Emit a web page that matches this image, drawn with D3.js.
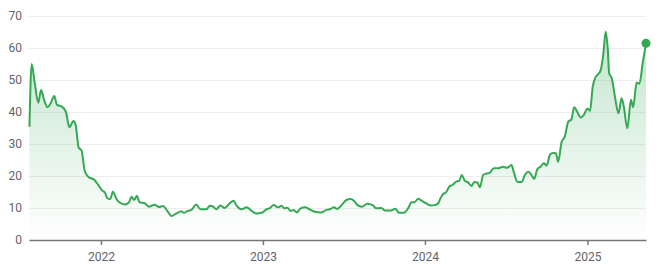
<!DOCTYPE html>
<meta charset="utf-8">
<style>
	body { margin: 0; background: #fff; font-family: Roboto, Arial, sans-serif; }
	.grid line { stroke: #eeeeee; stroke-width: 1; }
	.tick text { fill: #5f6368; font-size: 12px; font-family: Roboto, Arial, sans-serif; }
</style>
<body>
<svg id="chart" width="659" height="273"></svg>
<script src="https://d3js.org/d3.v7.min.js"></script>
<script>
	// weekly-ish readings
	var dates = [
		"2021-07-24","2021-07-29","2021-08-05","2021-08-13","2021-08-19","2021-08-26","2021-09-03","2021-09-10",
		"2021-09-18","2021-09-24","2021-10-05","2021-10-14","2021-10-22","2021-10-31","2021-11-05","2021-11-12",
		"2021-11-18","2021-11-26","2021-12-05","2021-12-17","2021-12-26","2022-01-03","2022-01-10","2022-01-16",
		"2022-01-22","2022-01-28","2022-02-05","2022-02-12","2022-02-24","2022-03-05","2022-03-11","2022-03-17",
		"2022-03-23","2022-03-29","2022-04-10","2022-04-19","2022-05-02","2022-05-12","2022-05-21","2022-05-30",
		"2022-06-09","2022-06-20","2022-07-01","2022-07-07","2022-07-16","2022-07-24","2022-08-04","2022-08-13",
		"2022-08-27","2022-09-03","2022-09-11","2022-09-18","2022-09-27","2022-10-07","2022-10-18","2022-10-27",
		"2022-11-02","2022-11-14","2022-11-25","2022-12-06","2022-12-17","2022-12-29","2023-01-09","2023-01-16",
		"2023-01-25","2023-02-04","2023-02-12","2023-02-18","2023-02-25","2023-03-04","2023-03-12","2023-03-18",
		"2023-03-27","2023-04-06","2023-04-16","2023-04-26","2023-05-12","2023-05-24","2023-06-02","2023-06-10",
		"2023-06-17","2023-06-26","2023-07-08","2023-07-17","2023-07-25","2023-08-02","2023-08-12","2023-08-24",
		"2023-09-06","2023-09-13","2023-09-25","2023-10-03","2023-10-16","2023-10-27","2023-11-03","2023-11-15",
		"2023-11-24","2023-12-02","2023-12-08","2023-12-17","2023-12-24","2024-01-01","2024-01-14","2024-01-23",
		"2024-01-31","2024-02-05","2024-02-11","2024-02-17","2024-02-25","2024-03-03","2024-03-11","2024-03-18",
		"2024-03-24","2024-03-31","2024-04-07","2024-04-15","2024-04-21","2024-04-28","2024-05-04","2024-05-11",
		"2024-05-19","2024-05-26","2024-06-04","2024-06-14","2024-06-24","2024-07-04","2024-07-14","2024-07-20",
		"2024-07-27","2024-08-06","2024-08-13","2024-08-21","2024-08-28","2024-09-03","2024-09-10","2024-09-18",
		"2024-09-25","2024-10-01","2024-10-09","2024-10-16","2024-10-22","2024-10-27","2024-11-04","2024-11-11",
		"2024-11-19","2024-11-26","2024-12-02","2024-12-09","2024-12-17","2024-12-24","2025-01-01","2025-01-07",
		"2025-01-13","2025-01-19","2025-01-25","2025-01-31","2025-02-06","2025-02-11","2025-02-16","2025-02-19",
		"2025-02-25","2025-03-04","2025-03-12","2025-03-19","2025-03-24","2025-04-01","2025-04-09","2025-04-14",
		"2025-04-22","2025-04-28","2025-05-06","2025-05-13"
	];
	var values = [
		35.4, 55, 49, 42.9, 46.9, 43.8, 41.5, 42.8,
		45, 42.2, 41.7, 40.1, 35.2, 37.2, 36, 28.8,
		28.1, 21.4, 19.6, 18.8, 17.2, 15.6, 14.8, 13,
		12.8, 15.1, 12.8, 11.7, 11.1, 11.7, 13.5, 12.5,
		13.8, 11.8, 11.5, 10.4, 11, 10.3, 10.6, 9.2,
		7.5, 8.3, 9, 8.5, 9.1, 9.4, 11.1, 9.6,
		9.6, 10.7, 10.4, 9.6, 10.8, 10, 11.5, 12.3,
		10.9, 9.6, 10.2, 9.2, 8.3, 8.5, 9.6, 9.9,
		10.9, 10.2, 10.7, 9.9, 10.1, 9.1, 9.4, 8.6,
		9.9, 10.2, 9.6, 8.9, 8.6, 9.4, 9.7, 10.2,
		9.7, 10.7, 12.5, 12.8, 12.3, 10.9, 10.4, 11.3,
		10.8, 9.9, 10, 9.2, 9.2, 9.8, 8.5, 8.5,
		9.9, 11.8, 11.8, 12.9, 12.3, 11.7, 10.8, 10.9,
		11.5, 13, 14.4, 14.8, 16.7, 17.2, 18.2, 18.5,
		20.3, 18.5, 18, 16.9, 18.1, 18, 16.5, 20.3,
		20.8, 21, 22.4, 22.4, 22.9, 22.6, 23.4, 20.8,
		18.2, 18.1, 20.3, 21.3, 20.3, 19.1, 22.1, 23,
		24, 23.3, 26.7, 27.2, 27.1, 24.4, 30.7, 32.3,
		37, 37.7, 41.5, 40.1, 38.3, 39.1, 41.1, 40.4,
		47.9, 50.8, 51.8, 53.1, 58.3, 65.1, 59.4, 52.1,
		50.5, 44.8, 39.6, 44.3, 41.7, 34.9, 43.8, 41.5,
		49.2, 48.8, 55.7, 61.5
	];
	var yTicks = [0, 10, 20, 30, 40, 50, 60, 70];
	var xTickYears = ["2022", "2023", "2024", "2025"];
	var domainStart = "2021-07-23", domainEnd = "2025-05-13";

	var parse = d3.timeParse("%Y-%m-%d");
	var data = dates.map(function(d, i) { return { date: parse(d), value: values[i] }; });

	var svg = d3.select("#chart"),
		margin = {top: 16, right: 13, bottom: 33, left: 29},
		width = +svg.attr("width") - margin.left - margin.right,
		height = +svg.attr("height") - margin.top - margin.bottom;

	var x = d3.scaleTime()
		.domain([parse(domainStart), parse(domainEnd)])
		.range([0, width]);
	var y = d3.scaleLinear()
		.domain([0, 70])
		.range([height, 0]);

	var defs = svg.append("defs");
	var grad = defs.append("linearGradient")
		.attr("id", "fillGrad")
		.attr("gradientUnits", "userSpaceOnUse")
		.attr("x1", 0).attr("y1", 0)
		.attr("x2", 0).attr("y2", height);
	grad.append("stop").attr("offset", "0%").attr("stop-color", "#34a853").attr("stop-opacity", 0.32);
	grad.append("stop").attr("offset", "100%").attr("stop-color", "#34a853").attr("stop-opacity", 0);

	var g = svg.append("g")
		.attr("transform", "translate(" + margin.left + "," + margin.top + ")");

	// gridlines + y labels
	var yAxis = g.append("g")
		.attr("class", "grid")
		.call(d3.axisLeft(y).tickValues(yTicks).tickSize(-width).tickPadding(7));
	yAxis.select(".domain").remove();
	yAxis.selectAll(".tick line").attr("stroke", "#eeeeee");
	yAxis.selectAll(".tick").filter(function(d) { return d === 0; }).select("line").remove();

	var line = d3.line()
		.x(function(d) { return x(d.date); })
		.y(function(d) { return y(d.value); })
		.curve(d3.curveMonotoneX);

	var area = d3.area()
		.x(function(d) { return x(d.date); })
		.y0(height)
		.y1(function(d) { return y(d.value); })
		.curve(d3.curveMonotoneX);

	g.append("path")
		.datum(data)
		.attr("d", area)
		.attr("fill", "url(#fillGrad)");

	g.append("path")
		.datum(data)
		.attr("d", line)
		.attr("fill", "none")
		.attr("stroke", "#34a853")
		.attr("stroke-width", 2)
		.attr("stroke-linejoin", "round");

	// x axis
	var xAxis = g.append("g")
		.attr("transform", "translate(0," + height + ")")
		.call(d3.axisBottom(x)
			.tickValues(xTickYears.map(function(yr) { return parse(yr + "-01-01"); }))
			.tickFormat(d3.timeFormat("%Y"))
			.tickSize(5)
			.tickSizeOuter(0)
			.tickPadding(7));
	xAxis.select(".domain").attr("stroke", "#747775").attr("stroke-width", 1.5);
	xAxis.selectAll(".tick line").attr("stroke", "#747775").attr("stroke-width", 1.5);

	// last point marker
	var last = data[data.length - 1];
	g.append("circle")
		.attr("cx", x(last.date))
		.attr("cy", y(last.value))
		.attr("r", 4.5)
		.attr("fill", "#34a853");
</script>
</body>
